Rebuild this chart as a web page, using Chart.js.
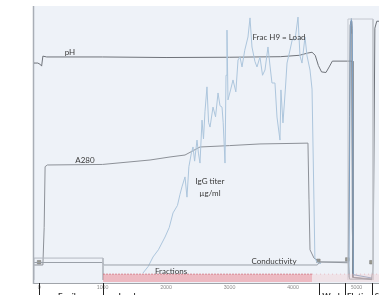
<!DOCTYPE html>
<html>
<head>
<meta charset="utf-8">
<script src="https://cdn.jsdelivr.net/npm/chart.js@4"></script>
<style>
  html, body { margin: 0; padding: 0; background: #fff; }
  #wrap { width: 379px; height: 295px; }
</style>
</head>
<body>
<div id="wrap"><canvas id="chart" width="379" height="295"></canvas></div>
<script>
// Volume (mL) vs. signal in % of full scale
const phTrace = [[-80, 79.4], [-20, 79.4], [20, 78.9], [40, 78.3], [60, 81.9], [120, 81.6], [1000, 81.6],
  [2000, 81.4], [3000, 81.5], [3800, 81.7], [4100, 82.2], [4230, 83.0], [4300, 83.3], [4350, 82.2],
  [4400, 78.5], [4450, 76.2], [4520, 76.0], [4570, 78.0], [4620, 80.1], [4930, 80.1], [4945, 2.0],
  [5240, 1.2], [5262, 6.0], [5290, 92.0], [5320, 94.5], [5355, 94.5]];

const a280Trace = [[-80, 6.5], [60, 6.5], [80, 20], [95, 42], [130, 42.6], [1000, 42.8], [1748, 44.4],
  [2063, 45.5], [2299, 46.2], [2535, 49.1], [3000, 49.6], [3480, 50.2], [4000, 50.4], [4236, 50.5],
  [4252, 30], [4268, 12], [4331, 9], [4425, 7.6], [4870, 7.3], [4890, 60], [4900, 93], [4915, 94.5],
  [4925, 90], [4935, 20], [4950, 2.0], [5240, 1.5]];

const igg = [[1637, 3.6], [1720, 6], [1795, 9.4], [1880, 12], [1984, 16.6], [2050, 20], [2110, 25.3],
  [2180, 28], [2220, 32], [2251, 34.7], [2299, 38.3], [2330, 31.0], [2360, 42], [2400, 47], [2425, 49.1],
  [2450, 44], [2488, 51.6], [2510, 46.9], [2535, 43.3], [2567, 58.8], [2590, 52], [2614, 62],
  [2645, 70.8], [2670, 58], [2693, 56.3], [2740, 63.5], [2780, 60], [2819, 68.6], [2850, 64],
  [2882, 63.5], [2900, 58], [2929, 43.3], [2945, 75], [2960, 91.3], [2976, 66.1], [3020, 70],
  [3055, 73.3], [3100, 69], [3134, 80.5], [3165, 81.6], [3197, 78], [3240, 84], [3291, 88.8],
  [3323, 95.7], [3354, 85.2], [3400, 80], [3433, 78], [3480, 81.6], [3520, 75], [3559, 76.9],
  [3606, 85.2], [3640, 78], [3669, 72.2], [3716, 72.2], [3748, 59.9], [3795, 51.6], [3810, 69.7],
  [3842, 57.8], [3880, 70], [3906, 79.4], [3953, 84.1], [3990, 88], [4032, 87.7], [4079, 96.0],
  [4110, 82], [4142, 79.4], [4189, 88.8], [4221, 82], [4268, 76.9], [4300, 70], [4330, 30],
  [4345, 9], [4380, 7.4], [4440, 7.0]];

const iggElution = [[4880, 2.0], [4905, 93], [4920, 95.5], [4935, 92], [4950, 3.0], [5240, 1.8]];

const conductivity = [[-80, 7.4], [1000, 7.4], [1020, 6.5], [4380, 6.5], [4430, 7.6], [4870, 7.6],
  [4890, 1.4], [5240, 1.4]];

const fractionRange = [[1007, 3.2], [4300, 3.2]];
const fractionRangeTail = [[4300, 3.2], [5355, 3.2]];
const loadFrame = [[-80, 1.1], [-80, 9.0], [1007, 9.0], [1007, 1.1]];
const poolFrame = [[4866, 1.1], [4866, 95.3], [5260, 95.3], [5260, 1.1]];
const fracMarkVol = [0, 4400, 4855, 5235];
const fracMarkPct = [7.5, 8.0, 8.5, 7.5];

const xTicks = [0, 1000, 2000, 3000, 4000, 5000];
const phaseMarks = [0, 1007, 4410, 4820, 5245];
const phaseNames = ["Equil.", "Load", "Wash", "Elution", "Strip"];
const phaseNameAt = [300, 1250, 4460, 4850, 5290];

const traceLabels = [
  { text: "pH", x: 487, y: 83.4 },
  { text: "A280", x: 723, y: 44.4 },
  { text: "IgG titer", x: 2692, y: 36.5 },
  { text: "µg/ml", x: 2692, y: 32.5 },
  { text: "Frac H9 = Load", x: 3780, y: 88.8 },
  { text: "Fractions", x: 2078, y: 4.0 },
  { text: "Conductivity", x: 3701, y: 7.9 },
];

const pts = (arr) => arr.map(([x, y]) => ({ x, y }));

function line(data, color, extra) {
  return Object.assign({ data: pts(data), borderColor: color, borderWidth: 1, fill: false, pointRadius: 0 }, extra || {});
}

// plot background + left border
const plotBg = {
  id: "plotBg",
  beforeDraw(chart) {
    const { ctx, chartArea: a } = chart;
    ctx.save();
    ctx.fillStyle = "#eef2f8";
    ctx.fillRect(a.left, a.top, a.right - a.left, a.bottom - a.top);
    ctx.strokeStyle = "#a9aeb6";
    ctx.lineWidth = 1.5;
    ctx.beginPath();
    ctx.moveTo(a.left - 0.5, a.top);
    ctx.lineTo(a.left - 0.5, a.bottom + 1);
    ctx.stroke();
    ctx.restore();
  },
};

// trace names, phase marks and phase names
const annotate = {
  id: "annotate",
  afterDatasetsDraw(chart) {
    const { ctx, scales: { x, y }, chartArea: a } = chart;
    ctx.save();
    ctx.fillStyle = "#3a3a3a";
    ctx.font = "8px Lato";
    ctx.textAlign = "center";
    ctx.textBaseline = "middle";
    traceLabels.forEach((l) => ctx.fillText(l.text, x.getPixelForValue(l.x), y.getPixelForValue(l.y)));

    ctx.strokeStyle = "#222";
    ctx.lineWidth = 1;
    phaseMarks.forEach((v) => {
      const px = Math.round(x.getPixelForValue(v)) + 0.5;
      ctx.beginPath();
      ctx.moveTo(px, a.bottom);
      ctx.lineTo(px, a.bottom + 14);
      ctx.stroke();
    });
    ctx.font = "bold 8px Lato";
    ctx.textAlign = "left";
    ctx.textBaseline = "top";
    ctx.fillStyle = "#333";
    phaseNames.forEach((n, i) => ctx.fillText(n, x.getPixelForValue(phaseNameAt[i]), a.bottom + 9));
    ctx.restore();
  },
};

new Chart(document.getElementById("chart"), {
  type: "line",
  data: {
    datasets: [
      line(fractionRange, "rgba(200,80,95,0.6)", { fill: { value: 0.4 }, backgroundColor: "rgba(236,140,150,0.55)", borderDash: [2, 1], borderWidth: 1 }),
      line(fractionRangeTail, "rgba(220,150,155,0.5)", { fill: { value: 0.4 }, backgroundColor: "rgba(240,200,204,0.35)", borderDash: [1, 3] }),
      line(loadFrame, "#b4b9c1"),
      line(poolFrame, "#c4c8cf"),
      line(conductivity, "#9aa0a8"),
      line(igg, "#adc6dd"),
      line(iggElution, "#7f9fc0"),
      line(a280Trace, "#8d9198"),
      line(phTrace, "#6f737a"),
      {
        type: "scatter",
        data: fracMarkVol.map((v, i) => ({ x: v, y: fracMarkPct[i] })),
        pointStyle: "rect",
        pointRadius: 2.5,
        backgroundColor: "#9a9a90",
        borderColor: "#777",
        borderWidth: 0.5,
      },
    ],
  },
  options: {
    responsive: false,
    animation: false,
    layout: { autoPadding: false, padding: { left: 34, top: 6, right: 0, bottom: 0 } },
    plugins: { legend: { display: false }, tooltip: { enabled: false } },
    scales: {
      x: {
        type: "linear",
        min: -80,
        max: 5355,
        afterBuildTicks(s) { s.ticks = xTicks.map((value) => ({ value })); },
        ticks: { font: { size: 5, family: "Lato" }, color: "#8a8a8a", padding: 1, maxRotation: 0, autoSkip: false, callback: (v) => String(v) },
        grid: { display: false, drawTicks: false },
        border: { display: true, color: "#a0a4aa" },
        afterFit(s) { s.height = 12; },
      },
      y: { display: false, min: 0, max: 100 },
    },
  },
  plugins: [plotBg, annotate],
});
</script>
</body>
</html>
